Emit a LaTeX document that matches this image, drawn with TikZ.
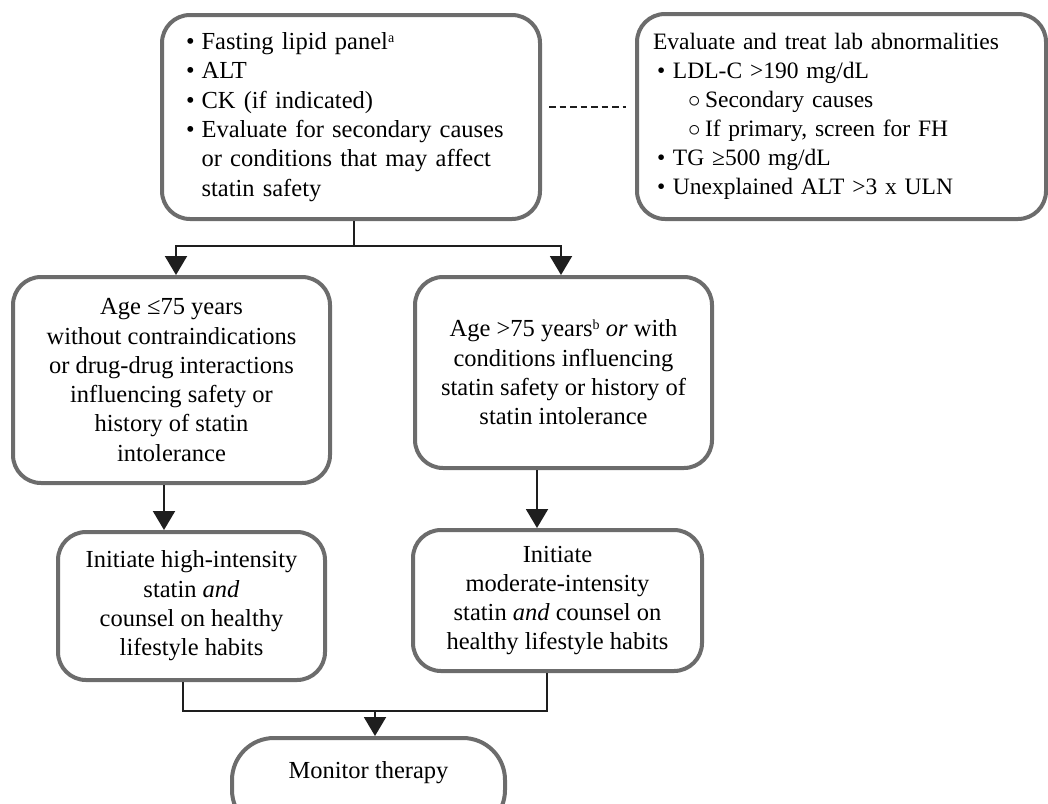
\documentclass[tikz,border=0pt]{standalone}
\usepackage{fontspec}
\setmainfont{Liberation Serif}
\usetikzlibrary{arrows.meta}
\definecolor{boxgray}{RGB}{108,108,108}
\definecolor{linkblack}{RGB}{30,30,30}
\newcommand\flowfont{\fontsize{24.5}{29.3}\selectfont}
\newcommand\labfont{\fontsize{23.5}{29}\selectfont}
\newcommand\bul{\makebox[16pt][l]{\textbullet}}
\newcommand\subbul{\makebox[17pt][l]{$\circ$}}
\newcommand\supnote[1]{\raisebox{7pt}{\fontsize{14}{14}\selectfont #1}}
\begin{document}
\begin{tikzpicture}[x=1pt,y=-1pt,
  box/.style={draw=boxgray, line width=4pt, rounded corners=28pt, inner sep=0pt,
    align=center, font=\flowfont, fill=white},
  link/.style={draw=linkblack, line width=2pt},
  arr/.style={link, -{Triangle[width=22pt,length=19pt]}},
  dashlink/.style={draw=linkblack, line width=2pt, dash pattern=on 6.5pt off 4pt},
]
\useasboundingbox (0,0) rectangle (1048,803);

% baseline tests and lab work-up
\node[box, minimum width=378pt, minimum height=204pt, text width=330pt, align=left]
  (top) at (351,117) {%
  \begin{tabular}{@{}l@{\hspace{7pt}}l@{}}
  \textbullet & Fasting lipid panel\supnote{a}\\
  \textbullet & ALT\\
  \textbullet & CK (if indicated)\\
  \textbullet & Evaluate for secondary causes\\
              & or conditions that may affect\\
              & statin safety
  \end{tabular}};

\node[box, font=\labfont, minimum width=409pt, minimum height=205pt, text width=377pt, align=left]
  (labs) at (841.5,116.5) {%
  Evaluate and treat lab abnormalities\\
  \hspace*{4pt}\bul LDL-C >190 mg/dL\\
  \hspace*{35pt}\subbul Secondary causes\\
  \hspace*{35pt}\subbul If primary, screen for FH\\
  \hspace*{4pt}\bul TG ≥500 mg/dL\\
  \hspace*{4pt}\bul Unexplained ALT >3 x ULN};

% patient groups
\node[box, minimum width=317pt, minimum height=206pt] (young) at (171.5,380) {%
  Age ≤75 years\\ without contraindications\\ or drug-drug interactions\\
  influencing safety or\\ history of statin\\ intolerance};

\node[box, minimum width=297pt, minimum height=191pt] (old) at (563.5,372.5) {%
  Age >75 years\supnote{b} \textit{or} with\\ conditions influencing\\
  statin safety or history of\\ statin intolerance};

% therapy
\node[box, minimum width=267pt, minimum height=148pt] (high) at (191.5,606) {%
  Initiate high-intensity\\ statin \textit{and}\\ counsel on healthy\\ lifestyle habits};

\node[box, minimum width=289pt, minimum height=141pt] (mod) at (557.5,600.5) {%
  Initiate\\ moderate-intensity\\ statin \textit{and} counsel on\\ healthy lifestyle habits};

\node[box, rounded corners=42pt, minimum width=273pt, minimum height=94pt,
  text height=16pt, text depth=30pt] (monitor) at (368.5,785) {Monitor therapy};

% connectors
\draw[dashlink, shorten <=7pt, shorten >=9pt]
  ([yshift=10pt]top.east) -- ([yshift=10pt]top.east -| labs.west);

\coordinate (split) at (354,246);
\draw[link] (top.south -| split) -- (split);
\draw[arr] (split) -| ([xshift=4.5pt]young.north);
\draw[arr] (split) -| ([xshift=-2.5pt]old.north);

\draw[arr] ([xshift=-7.5pt]young.south) -- ([xshift=-7.5pt]young.south |- high.north);
\draw[arr] ([xshift=-26.5pt]old.south) -- ([xshift=-26.5pt]old.south |- mod.north);

\coordinate (jl) at (183,711);
\coordinate (jr) at (547,711);
\coordinate (join) at (375,711);
\draw[link] (high.south -| jl) -- (jl) -- (jr) -- (mod.south -| jr);
\draw[arr] (join) -- (join |- monitor.north);
\end{tikzpicture}
\end{document}
